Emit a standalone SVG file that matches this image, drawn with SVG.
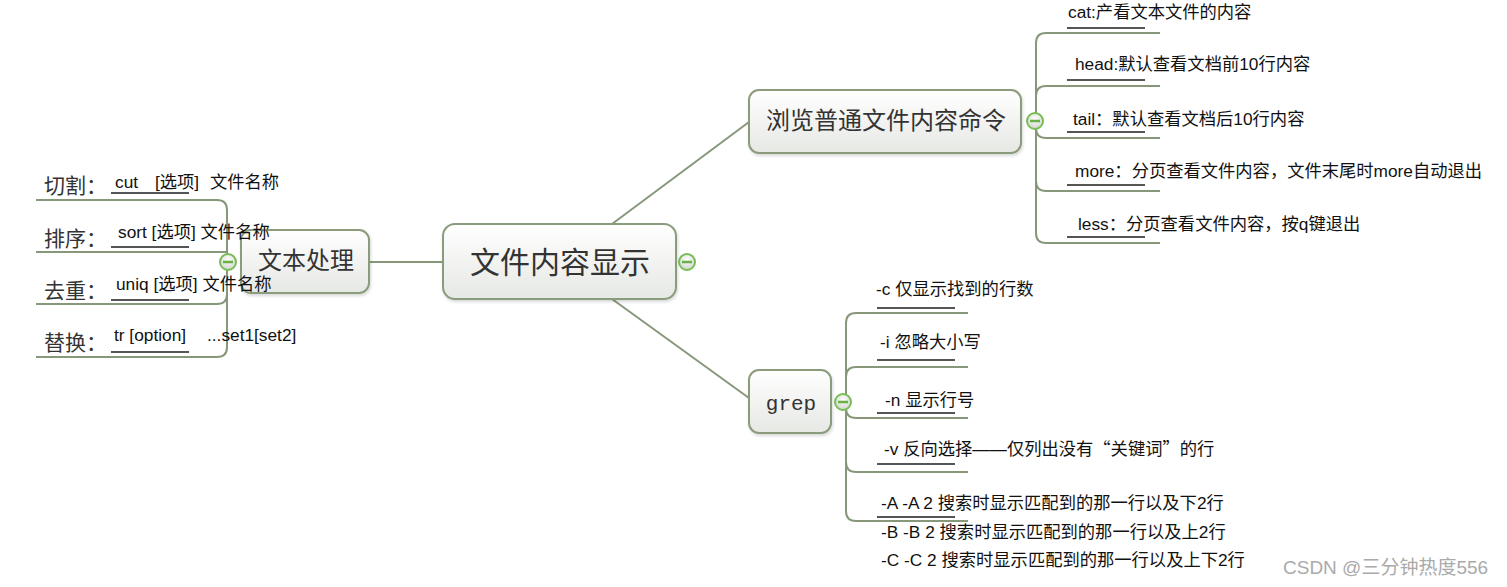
<svg xmlns="http://www.w3.org/2000/svg" width="1507" height="587" viewBox="0 0 1507 587">
<defs>
<linearGradient id="nodeFill" x1="0" y1="0" x2="0" y2="1">
<stop offset="0" stop-color="#ffffff"/>
<stop offset="1" stop-color="#e6e8e4"/>
</linearGradient>
<radialGradient id="btnFill" cx="0.5" cy="0.35" r="0.6">
<stop offset="0" stop-color="#ffffff"/>
<stop offset="1" stop-color="#d4d8d0"/>
</radialGradient>
<filter id="sh" x="-10%" y="-10%" width="125%" height="130%">
<feDropShadow dx="1" dy="2" stdDeviation="1.5" flood-color="#000" flood-opacity="0.15"/>
</filter>
</defs>
<style>
.box{fill:url(#nodeFill);stroke:#8b9c7d;stroke-width:2;filter:url(#sh)}
.br{fill:none;stroke:#87987a;stroke-width:2}
.ul{stroke:#555;stroke-width:2}
.btn{fill:url(#btnFill);stroke:#78bd55;stroke-width:2}
.minus{stroke:#6aaf47;stroke-width:2.5}
.t{font-family:"Liberation Sans","Noto Sans CJK SC",sans-serif;font-size:17.3px;fill:#111}
.cjk{font-family:"Noto Sans CJK SC",sans-serif}
.lab{font-family:"Noto Sans CJK SC","Liberation Sans",sans-serif;font-size:21px;fill:#333}
.nt{font-family:"Noto Sans CJK SC","Liberation Sans",sans-serif;fill:#333;text-anchor:middle}
.mono{font-family:"Liberation Mono",monospace;font-size:21px;fill:#333;text-anchor:middle}
.wm{font-family:"Liberation Sans","Noto Sans CJK SC",sans-serif;font-size:19px;fill:#aaa}
</style>
<g id="connectors">
<line class="br" x1="369" y1="262" x2="443" y2="262"/>
<line class="br" x1="612" y1="224" x2="749" y2="122"/>
<line class="br" x1="612" y1="299" x2="749" y2="398"/>
<path class="br" d="M36,200 H217 Q227,200 227,210 V262"/>
<path class="br" d="M36,252 H227"/>
<path class="br" d="M36,304 H217 Q227,304 227,294 V262"/>
<path class="br" d="M36,357 H217 Q227,357 227,347 V262"/>
<path class="br" d="M1160,33 H1046 Q1036,33 1036,43 V121"/>
<path class="br" d="M1160,86 H1046 Q1036,86 1036,96 V121"/>
<path class="br" d="M1160,138 H1046 Q1036,138 1036,128 V121"/>
<path class="br" d="M1160,191 H1046 Q1036,191 1036,181 V121"/>
<path class="br" d="M1160,243 H1046 Q1036,243 1036,233 V121"/>
<path class="br" d="M968,313 H856 Q846,313 846,323 V402"/>
<path class="br" d="M968,367 H856 Q846,367 846,377 V402"/>
<path class="br" d="M968,418 H856 Q846,418 846,408 V402"/>
<path class="br" d="M968,472 H856 Q846,472 846,462 V402"/>
<path class="br" d="M968,521 H856 Q846,521 846,511 V402"/>
</g>
<g id="node-center">
<rect class="box" x="443" y="224" width="233" height="75" rx="12"/>
<text class="nt" x="560" y="273" font-size="30">文件内容显示</text>
<circle class="btn" cx="687" cy="262" r="8"/>
<line class="minus" x1="682" y1="262" x2="692" y2="262"/>
</g>
<g id="node-text-processing">
<rect class="box" x="241" y="230" width="128" height="63" rx="10"/>
<text class="nt" x="306" y="269" font-size="24">文本处理</text>
<circle class="btn" cx="228" cy="262" r="8"/>
<line class="minus" x1="223" y1="262" x2="233" y2="262"/>
</g>
<g id="node-browse">
<rect class="box" x="749" y="90" width="272" height="63" rx="10"/>
<text class="nt" x="886" y="129" font-size="24">浏览普通文件内容命令</text>
<circle class="btn" cx="1035" cy="121" r="8"/>
<line class="minus" x1="1030" y1="121" x2="1040" y2="121"/>
</g>
<g id="node-grep">
<rect class="box" x="749" y="370" width="82" height="63" rx="10"/>
<text class="mono" x="791" y="410">grep</text>
<circle class="btn" cx="843" cy="402" r="8"/>
<line class="minus" x1="838" y1="402" x2="848" y2="402"/>
</g>
<g id="leaf-cut">
<text class="lab" x="44" y="193">切割：</text>
<text class="t" y="188"><tspan x="115">cut</tspan><tspan x="155">[选项]</tspan><tspan x="210">文件名称</tspan></text>
<line class="ul" x1="111" y1="193" x2="189" y2="193"/>
</g>
<g id="leaf-sort">
<text class="lab" x="44" y="246">排序：</text>
<text class="t" x="118" y="238">sort [选项] 文件名称</text>
<line class="ul" x1="111" y1="247" x2="189" y2="247"/>
</g>
<g id="leaf-uniq">
<text class="lab" x="44" y="298">去重：</text>
<text class="t" x="116" y="290">uniq [选项] 文件名称</text>
<line class="ul" x1="111" y1="300" x2="189" y2="300"/>
</g>
<g id="leaf-tr">
<text class="lab" x="44" y="350">替换：</text>
<text class="t" y="341"><tspan x="114">tr [option]</tspan><tspan x="207">...set1[set2]</tspan></text>
<line class="ul" x1="111" y1="352" x2="189" y2="352"/>
</g>
<g id="leaf-cat">
<text class="t" x="1068" y="18">cat:产看文本文件的内容</text>
<line class="ul" x1="1067" y1="28" x2="1145" y2="28"/>
</g>
<g id="leaf-head">
<text class="t" x="1075" y="70">head:默认查看文档前10行内容</text>
<line class="ul" x1="1067" y1="80" x2="1145" y2="80"/>
</g>
<g id="leaf-tail">
<text class="t" x="1073" y="125">tail：默认查看文档后10行内容</text>
<line class="ul" x1="1067" y1="132" x2="1145" y2="132"/>
</g>
<g id="leaf-more">
<text class="t" x="1075" y="177">more：分页查看文件内容，文件末尾时more自动退出</text>
<line class="ul" x1="1067" y1="185" x2="1145" y2="185"/>
</g>
<g id="leaf-less">
<text class="t" x="1078" y="230">less：分页查看文件内容，按q键退出</text>
<line class="ul" x1="1067" y1="237" x2="1145" y2="237"/>
</g>
<g id="leaf-c">
<text class="t" x="876" y="295">-c 仅显示找到的行数</text>
<line class="ul" x1="877" y1="308" x2="955" y2="308"/>
</g>
<g id="leaf-i">
<text class="t" x="880" y="348">-i 忽略大小写</text>
<line class="ul" x1="877" y1="360" x2="955" y2="360"/>
</g>
<g id="leaf-n">
<text class="t" x="885" y="406">-n 显示行号</text>
<line class="ul" x1="877" y1="413" x2="955" y2="413"/>
</g>
<g id="leaf-v">
<text class="t" x="884" y="455">-v 反向选择——仅列出没有<tspan class="cjk">“</tspan>关键词<tspan class="cjk">”</tspan>的行</text>
<line class="ul" x1="877" y1="464" x2="955" y2="464"/>
</g>
<g id="leaf-abc">
<text class="t" x="881" y="509">-A -A 2 搜索时显示匹配到的那一行以及下2行</text>
<text class="t" x="881" y="538">-B -B 2 搜索时显示匹配到的那一行以及上2行</text>
<text class="t" x="881" y="566">-C -C 2 搜索时显示匹配到的那一行以及上下2行</text>
<line class="ul" x1="877" y1="517" x2="955" y2="517"/>
</g>
<text class="wm" x="1283" y="574">CSDN @三分钟热度556</text>
</svg>
